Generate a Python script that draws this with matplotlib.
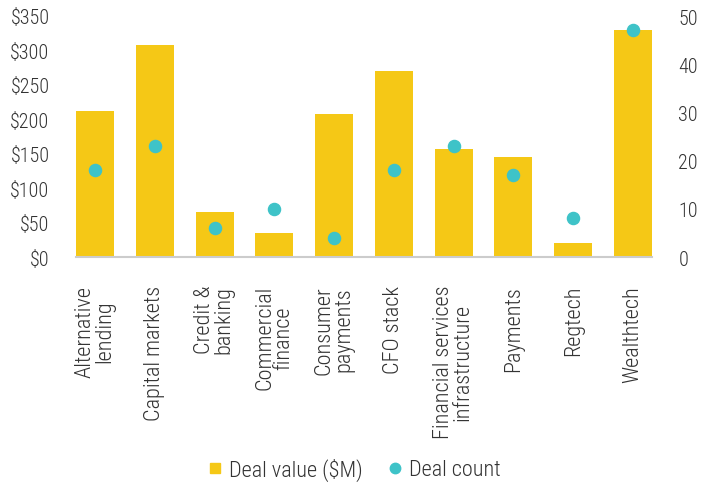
import matplotlib
matplotlib.use("Agg")
import matplotlib.pyplot as plt
from matplotlib.lines import Line2D
from matplotlib import font_manager

categories = ["Alternative\nlending", "Capital markets", "Credit &\nbanking", "Commercial\nfinance",
              "Consumer\npayments", "CFO stack", "Financial services\ninfrastructure", "Payments",
              "Regtech", "Wealthtech"]
deal_value = [212, 308, 65, 35, 208, 270, 157, 145, 20, 330]
deal_count = [18, 23, 6, 10, 4, 18, 23, 17, 8, 47]
left_ticks = [0, 50, 100, 150, 200, 250, 300, 350]
right_ticks = [0, 10, 20, 30, 40, 50]

avail = {}
for f in font_manager.fontManager.ttflist:
    avail.setdefault(f.name, set()).add(f.weight)
fam = "DejaVu Sans"
for cand in ["Roboto Condensed", "Fira Sans Condensed", "Sofia Sans Condensed", "Encode Sans Condensed", "Barlow Semi Condensed"]:
    if cand in avail and any(w <= 300 for w in avail[cand]):
        fam = cand
        break
plt.rcParams["font.family"] = [fam, "DejaVu Sans"]
plt.rcParams["font.weight"] = 300

YEL = "#F5C816"
CYAN = "#3EC3C8"
TXT = "#333333"

fig = plt.figure(figsize=(7.01, 4.85), dpi=100)
ax = fig.add_axes([76/701, 1-258/485, (652-76)/701, (258-17)/485])
x = list(range(len(categories)))
ax.bar(x, deal_value, width=0.64, color=YEL, zorder=2)
ax.set_ylim(0, 350)
ax.set_xlim(-0.32, len(categories) - 1 + 0.32)
ax.set_yticks(left_ticks)
ax.set_yticklabels([f"${v}" for v in left_ticks])
ax.set_xticks(x)
ax.set_xticklabels(categories, rotation=90, ha="center", va="top", linespacing=0.9)
ax.tick_params(axis="y", length=0, labelsize=14.5, colors=TXT, pad=19)
ax.tick_params(axis="x", length=0, labelsize=16, colors=TXT, pad=20)
for s in ["top", "right", "left"]:
    ax.spines[s].set_visible(False)
ax.spines["bottom"].set_color("#cccccc")
ax.spines["bottom"].set_linewidth(1.5)

ax2 = ax.twinx()
ax2.scatter(x, deal_count, s=76, color=CYAN, zorder=3)
ax2.set_ylim(0, 50)
ax2.set_yticks(right_ticks)
ax2.tick_params(length=0, labelsize=14.5, colors=TXT, pad=19)
for s in ax2.spines.values():
    s.set_visible(False)

handles = [Line2D([0], [0], marker="s", linestyle="none", markersize=7.5, color=YEL),
           Line2D([0], [0], marker="o", linestyle="none", markersize=7.5, color=CYAN)]
fig.legend(handles, ["Deal value ($M)", "Deal count"], loc="center", bbox_to_anchor=(354/701, 1-470/485),
           ncol=2, frameon=False, fontsize=16, handlelength=0.7, handletextpad=0.3,
           columnspacing=1.1, labelcolor=TXT, borderpad=0)

fig.savefig("out.png", dpi=100)
